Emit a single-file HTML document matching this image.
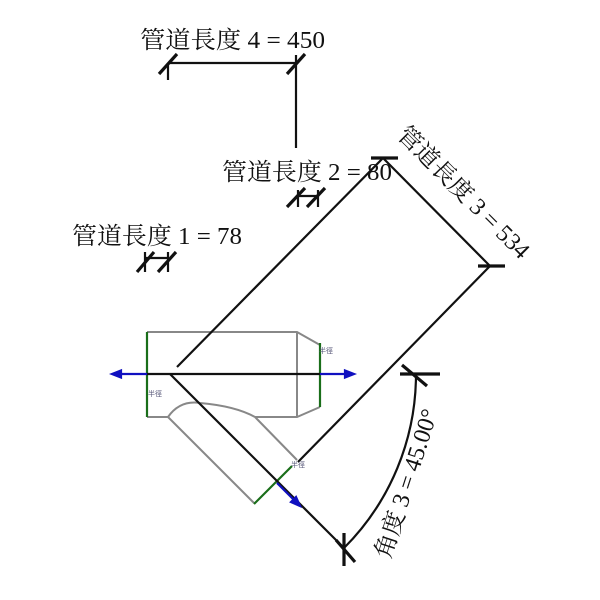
<!DOCTYPE html>
<html><head><meta charset="utf-8"><style>
html,body{margin:0;padding:0;background:#fff;}
svg{display:block}
text{font-family:"Liberation Serif","Noto Serif CJK SC",serif;font-size:24px;fill:#111;}
.s{font-family:"Liberation Sans","Noto Sans CJK SC",sans-serif;font-size:7px;fill:#557;}
</style></head><body>
<svg width="600" height="600" viewBox="0 0 600 600" xmlns="http://www.w3.org/2000/svg">
<g fill="none" stroke="#888" stroke-width="2">
<path d="M147,332 H297 L320,345 M320,407 L297,417 H255 M297,332 V417"/>
<path d="M147,417 H168 Q180,400 200,403 Q235,406 255,417"/>
<path d="M168,417 L254,503 M255,417 L297,460"/>
</g>
<g stroke="#1a6e1a" stroke-width="2.2">
<line x1="147" y1="332" x2="147" y2="417"/>
<line x1="320" y1="343" x2="320" y2="407"/>
<line x1="254" y1="504" x2="292" y2="466"/>
</g>
<g stroke="#111" stroke-width="2.2" fill="none">
<line x1="147" y1="374" x2="320" y2="374"/>
<line x1="170" y1="374" x2="345" y2="549"/>
<line x1="177" y1="367" x2="383" y2="158"/>
<line x1="298" y1="462" x2="490" y2="266"/>
<line x1="383" y1="158" x2="490" y2="266"/>
<path d="M416,374 A246,246 0 0 1 344,548"/>
<line x1="168" y1="63" x2="296" y2="63"/>
<line x1="168" y1="63" x2="168" y2="80"/>
<line x1="296" y1="55" x2="296" y2="148"/>
<line x1="145" y1="258" x2="168" y2="258"/>
<line x1="145" y1="252" x2="145" y2="272"/>
<line x1="168" y1="252" x2="168" y2="272"/>
<line x1="298" y1="196" x2="318" y2="196"/>
<line x1="298" y1="190" x2="298" y2="207"/>
<line x1="318" y1="190" x2="318" y2="207"/>
</g>
<g stroke="#111" stroke-width="3.2">
<line x1="159" y1="74" x2="177" y2="54"/>
<line x1="287" y1="74" x2="305" y2="54"/>
<line x1="137" y1="272" x2="154" y2="252"/>
<line x1="158" y1="272" x2="176" y2="252"/>
<line x1="287" y1="207" x2="305" y2="188"/>
<line x1="307" y1="207" x2="325" y2="188"/>
<line x1="371" y1="158" x2="398" y2="158"/>
<line x1="478" y1="266" x2="505" y2="266"/>
<line x1="400" y1="374" x2="440" y2="374"/>
<line x1="402" y1="365" x2="427" y2="386"/>
<line x1="344" y1="533" x2="344" y2="566"/>
<line x1="336" y1="540" x2="355" y2="562"/>
</g>
<g stroke="#1010c0" stroke-width="2.2" fill="#1010c0">
<line x1="147" y1="374" x2="118" y2="374"/>
<polygon points="112,374 121,370.5 121,377.5"/>
<line x1="320" y1="374" x2="348" y2="374"/>
<polygon points="354,374 345,370.5 345,377.5"/>
<line x1="277" y1="483" x2="296" y2="502"/>
<polygon points="300,506 291,502 296,497"/>
</g>
<text x="140" y="48" textLength="185" lengthAdjust="spacingAndGlyphs">管道長度 4 = 450</text>
<text x="222" y="180" textLength="170" lengthAdjust="spacingAndGlyphs">管道長度 2 = 80</text>
<text x="72" y="244" textLength="170" lengthAdjust="spacingAndGlyphs">管道長度 1 = 78</text>
<text transform="translate(458,198) rotate(45)" text-anchor="middle">管道長度 3 = 534</text>
<text transform="translate(414,486) rotate(-72)" text-anchor="middle">角度 3 = 45.00°</text>
<text class="s" x="148" y="396">半徑</text>
<text class="s" x="319" y="353">半徑</text>
<text class="s" x="291" y="467">半徑</text>
</svg>
</body></html>
